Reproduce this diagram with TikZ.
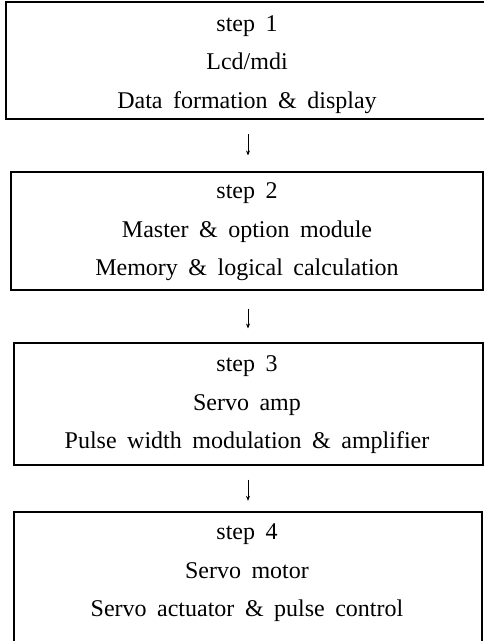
\documentclass[tikz,border=0pt]{standalone}
\usepackage{fontspec}
\setmainfont{Liberation Serif}
\usetikzlibrary{arrows.meta}
\newcommand\widewords{\fontsize{24}{38.5}\selectfont\spaceskip=10.5pt\relax}
\begin{document}
\begin{tikzpicture}[x=1pt,y=-1pt,
  stepbox/.style={draw=black,line width=1.1pt},
  steptext/.style={align=center,inner sep=0pt,font=\widewords},
  flow/.style={line width=0.6pt,-{Stealth[length=5pt,width=4pt]}}]
\useasboundingbox (0,0) rectangle (484,641);
\path[fill=white] (0,0) rectangle (484,641);
\draw[stepbox] (6,2) rectangle (487,119);
\node[minimum width=481pt,minimum height=117pt,inner sep=0pt] (b1) at (246.5,60.5) {};
\node[minimum width=472pt,minimum height=118pt,inner sep=0pt,stepbox] (b2) at (247,231) {};
\node[minimum width=469pt,minimum height=122pt,inner sep=0pt,stepbox] (b3) at (248.5,404) {};
\draw[stepbox] (14,512) rectangle (482,645);
\node[minimum width=468pt,minimum height=133pt,inner sep=0pt] (b4) at (248,578.5) {};
\node[steptext] (t1) at (247,64.5) {step 1\\Lcd/mdi\\Data formation \& display};
\node[steptext] (t2) at (247,232) {step 2\\Master \& option module\\Memory \& logical calculation};
\node[steptext] (t3) at (247,405) {step 3\\Servo amp\\Pulse width modulation \& amplifier};
\node[steptext] (t4) at (247,573) {step 4\\Servo motor\\Servo actuator \& pulse control};
\coordinate (ax) at (248,0);
\draw[flow,shorten <=15pt,shorten >=16pt] (b1.south -| ax) -- (b2.north -| ax);
\draw[flow,shorten <=18pt,shorten >=14pt] (b2.south -| ax) -- (b3.north -| ax);
\draw[flow,shorten <=14pt,shorten >=11pt] (b3.south -| ax) -- (b4.north -| ax);
\end{tikzpicture}
\end{document}
